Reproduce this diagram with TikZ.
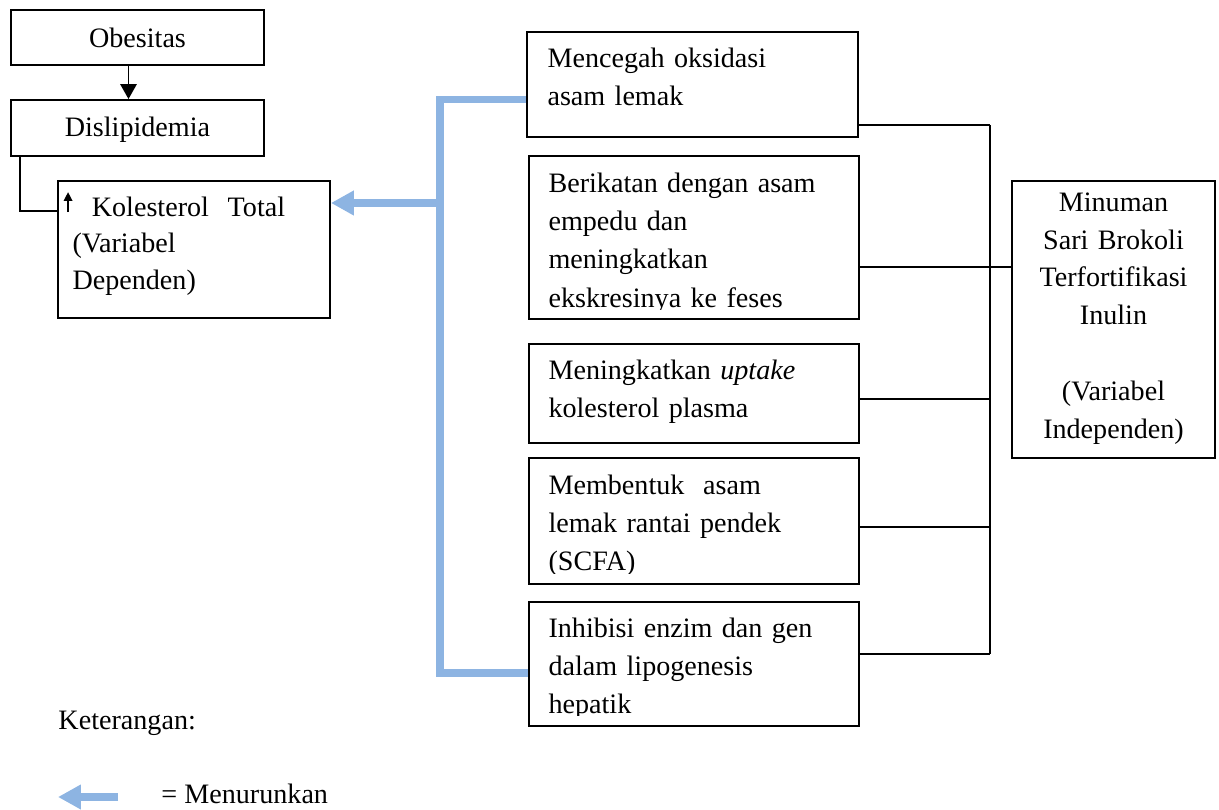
\documentclass[tikz,border=0pt]{standalone}
\usepackage{fontspec}
\setmainfont{Liberation Serif}
\usetikzlibrary{arrows.meta,fit,positioning}
\definecolor{bluearrow}{HTML}{8DB4E2}

\tikzset{
  box/.style={draw, line width=0.8pt, inner sep=0pt},
  txt/.style={anchor=base west, inner sep=0pt, align=left, text width=4.6cm,
    font=\fontsize{12}{16.4}\selectfont},
  ctxt/.style={anchor=base, inner sep=0pt, align=center, text width=3cm,
    font=\fontsize{12}{16.2}\selectfont},
  link/.style={draw, line width=0.8pt},
  decrease/.style={bluearrow, line width=3pt},
  decreasetip/.style={decrease, -{Triangle[length=9.8pt,width=10pt]}},
}

\begin{document}
\begin{tikzpicture}[x=0.015cm, y=-0.015cm]
\useasboundingbox (0,0) rectangle (1219,810);

% === Left chain ===
\node[box, fit={(11,10) (264,65)}] (obes) {};
\node[ctxt] (obes-t) at ([shift={(0,10)}]obes.center) {Obesitas};
\node[box, fit={(11,100) (264,156)}] (disl) {};
\node[ctxt] (disl-t) at ([shift={(0,9)}]disl.center) {Dislipidemia};
\node[box, fit={(58,181) (330,318)}] (kol) {};
\node[txt, font=\fontsize{12}{15.6}\selectfont] (kol-t) at ([shift={(15,36)}]kol.north west)
  {\hspace*{0.29cm}Kolesterol\ \ Total\\ (Variabel\\ Dependen)};

\draw[link, -{Triangle[length=6.4pt,width=7pt]}]
  ([shift={(-9,0)}]obes.south) -- ([shift={(-9,0)}]disl.north);
\draw[link] ([shift={(10,0)}]disl.south west) |- ([shift={(0,31)}]kol.north west);
% small up arrow in front of the text
\draw[line width=0.9pt, -{Triangle[length=3.8pt,width=3.6pt]}]
  ([shift={(11,32)}]kol.north west) -- ([shift={(11,12)}]kol.north west);

% === Mechanism boxes ===
\node[box, fit={(527,32) (858,137)}] (menc) {};
\node[box, fit={(529,156) (859,319)}] (beri) {};
\node[box, fit={(529,344) (859,443)}] (meng) {};
\node[box, fit={(529,458) (859,584)}] (memb) {};
\node[box, fit={(529,602) (859,726)}] (inhib) {};

\node[txt] (menc-t) at ([shift={(21,36)}]menc.north west)
  {Mencegah oksidasi\\ asam lemak};
\begin{scope}
  \clip (beri.north west) rectangle ([shift={(0,-10)}]beri.south east);
  \node[txt] (beri-t) at ([shift={(20,37)}]beri.north west)
    {Berikatan dengan asam\\ empedu dan\\ meningkatkan\\ ekskresinya ke feses};
\end{scope}
\node[txt] (meng-t) at ([shift={(20,36)}]meng.north west)
  {Meningkatkan \textit{uptake}\\ kolesterol plasma};
\begin{scope}
  \clip (memb.north west) rectangle ([shift={(0,-11)}]memb.south east);
  \node[txt] (memb-t) at ([shift={(20,37)}]memb.north west)
    {Membentuk\ \ asam\\ lemak rantai pendek\\ (SCFA)};
\end{scope}
\begin{scope}
  \clip (inhib.north west) rectangle ([shift={(0,-11)}]inhib.south east);
  \node[txt] (inhib-t) at ([shift={(20,36)}]inhib.north west)
    {Inhibisi enzim dan gen\\ dalam lipogenesis\\ hepatik};
\end{scope}

% === Independent variable ===
\node[box, fit={(1012,181) (1215,458)}] (minu) {};
\node[ctxt] (minu-t) at ([shift={(0,31)}]minu.north)
  {Minuman\\ Sari Brokoli\\ Terfortifikasi\\ Inulin\\[16.2pt] (Variabel\\ Independen)};

% trunk and branches
\coordinate (t1) at (990,125);
\coordinate (t2) at (990,267);
\coordinate (t3) at (990,399);
\coordinate (t4) at (990,527);
\coordinate (t5) at (990,654);
\draw[link] (t1) -- (t5);
\draw[link] (menc.east |- t1) -- (t1);
\draw[link] (beri.east |- t2) -- (minu.west |- t2);
\draw[link] (meng.east |- t3) -- (t3);
\draw[link] (memb.east |- t4) -- (t4);
\draw[link] (inhib.east |- t5) -- (t5);

% === Blue bracket: lowers total cholesterol ===
\coordinate (bt) at (440,99.5);
\coordinate (bm) at (440,203);
\coordinate (bb) at (440,673);
\draw[decrease] (menc.west |- bt) -- (bt) -- (bb) -- (inhib.west |- bb);
\draw[decreasetip] (bm) -- (kol.east |- bm);

% === Legend ===
\node[anchor=base west, inner sep=0pt, font=\fontsize{12}{16}\selectfont]
  (ket) at (58,729) {Keterangan:};
\coordinate (leg-a) at (118,797);
\coordinate (leg-b) at (58,797);
\draw[decreasetip] (leg-a) -- (leg-b);
\node[anchor=base west, inner sep=0pt, font=\fontsize{12}{16}\selectfont]
  (menur) at (161,803) {= Menurunkan};

\end{tikzpicture}
\end{document}
